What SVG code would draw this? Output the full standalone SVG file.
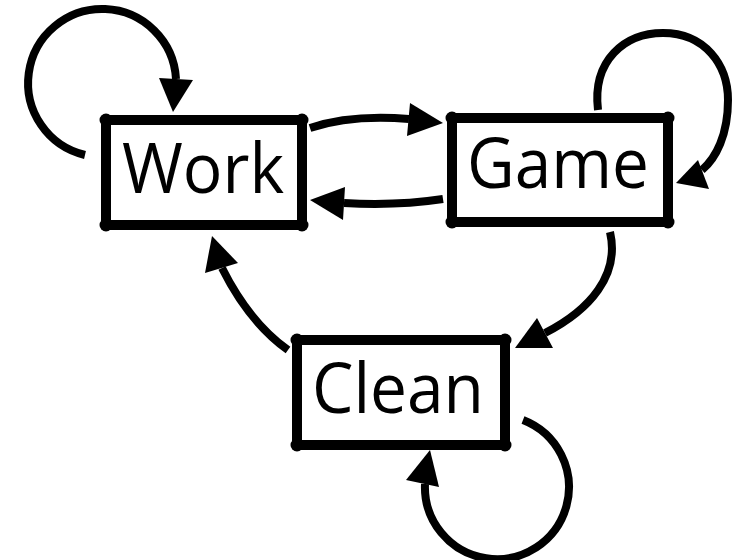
<svg xmlns="http://www.w3.org/2000/svg" width="732" height="560" viewBox="0 0 732 560">
<style>
.box{fill:#fff;stroke:#000;stroke-width:10;stroke-linejoin:round}
.blob{fill:#000}
.lbl{font-family:"Open Sans","Noto Sans","Liberation Sans",sans-serif;font-size:70px;fill:#000}
.edge{fill:none;stroke:#000;stroke-width:8}
.head{fill:#000}
</style>
<rect width="732" height="560" fill="#fff"/>
<g id="connectors">
<path class="edge" d="M85 155 A74 74 0 1 1 176 79"/>
<polygon class="head" points="159,78 193,80 173,112"/>
<path class="edge" d="M598 110 C592 60 625 33 663 33 C705 33 728 65 728 100 C728 135 716 158 702 170"/>
<polygon class="head" points="698,160 709,189 676,183"/>
<path class="edge" d="M523 420 A72 72 0 1 1 425 484"/>
<polygon class="head" points="406,480 439,487 430,450"/>
<path class="edge" d="M610 232 C620 275 590 310 545 333"/>
<polygon class="head" points="537,318 553,348 515,348"/>
<path class="edge" d="M288 350 C260 330 238 300 222 268"/>
<polygon class="head" points="205,273 238,263 212,236"/>
<path class="edge" d="M310 128 C340 118 372 116 409 119"/>
<polygon class="head" points="410,103 407,136 443,123"/>
<path class="edge" d="M443 199 C410 204 380 205 344 203"/>
<polygon class="head" points="345,187 343,220 310,200"/>
</g>
<g id="work">
<rect class="box" x="106" y="120" width="196" height="105"/>
<circle class="blob" cx="106" cy="120" r="6.5"/><circle class="blob" cx="302" cy="120" r="6.5"/><circle class="blob" cx="106" cy="225" r="6.5"/><circle class="blob" cx="302" cy="225" r="6.5"/>
<text class="lbl" x="122" y="193" textLength="162" lengthAdjust="spacingAndGlyphs">Work</text>
</g>
<g id="game">
<rect class="box" x="452" y="118" width="216" height="104"/>
<circle class="blob" cx="452" cy="118" r="6.5"/><circle class="blob" cx="668" cy="118" r="6.5"/><circle class="blob" cx="452" cy="222" r="6.5"/><circle class="blob" cx="668" cy="222" r="6.5"/>
<text class="lbl" x="467" y="188" textLength="182" lengthAdjust="spacingAndGlyphs">Game</text>
</g>
<g id="clean">
<rect class="box" x="297" y="340" width="208" height="105"/>
<circle class="blob" cx="297" cy="340" r="6.5"/><circle class="blob" cx="505" cy="340" r="6.5"/><circle class="blob" cx="297" cy="445" r="6.5"/><circle class="blob" cx="505" cy="445" r="6.5"/>
<text class="lbl" x="312" y="413" textLength="172" lengthAdjust="spacingAndGlyphs">Clean</text>
</g>
</svg>
